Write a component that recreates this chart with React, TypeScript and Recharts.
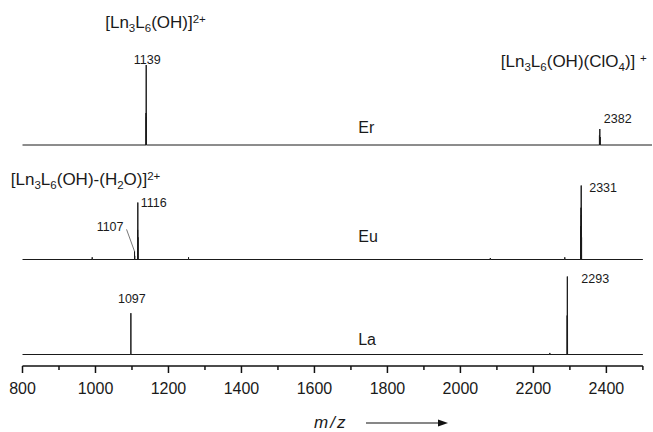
import React from "react";
import { ComposedChart, Line, XAxis, YAxis, ReferenceDot, ReferenceLine } from "recharts";

// peak sticks (m/z, relative intensity, 100 = tallest peak)
const erMz = [1138.5, 1139, 1139.5, 2381, 2382, 2383];
const erInt = [40, 100, 35, 12, 20, 10];

const euMz = [991, 1107, 1107.5, 1115.5, 1116, 1116.5, 1255, 2082, 2286, 2330, 2330.5, 2331, 2331.5, 2332];
const euInt = [3, 11, 5, 40, 77, 30, 3, 2, 3, 45, 70, 100, 60, 30];

const laMz = [1097, 2245, 2292.5, 2293, 2293.5];
const laInt = [53, 2, 50, 100, 45];

const xTicks = [800, 900, 1000, 1100, 1200, 1300, 1400, 1500, 1600, 1700, 1800, 1900, 2000, 2100, 2200, 2300, 2400, 2500];

const W = 653;
const H = 432;
const AXIS_H = 66;
const PLOT_H = H - AXIS_H;
const FONT = "'Liberation Sans', Arial, Helvetica, sans-serif";
const INK = "#1a1a1a";

// y domain so that 0 sits at basePx and 100 sits peakPx above it
const domainFor = (basePx: number, peakPx: number): [number, number] => {
  const s = peakPx / 100;
  return [-(PLOT_H - basePx) / s, basePx / s];
};
const erDomain = domainFor(145, 80);
const euDomain = domainFor(259.5, 74);
const laDomain = domainFor(354.5, 78);

const buildSpectrum = (mz: number[], ints: number[], start: number, end: number) => {
  const pts: { mz: number; v: number }[] = [{ mz: start, v: 0 }];
  mz.forEach((m, i) => {
    pts.push({ mz: m - 0.12, v: 0 }, { mz: m, v: ints[i] }, { mz: m + 0.12, v: 0 });
  });
  pts.push({ mz: end, v: 0 });
  return pts;
};

const erData = buildSpectrum(erMz, erInt, 800, 2525);
const euData = buildSpectrum(euMz, euInt, 800, 2500);
const laData = buildSpectrum(laMz, laInt, 800, 2500);

type Part = { t: string; s?: "sub" | "sup" };

const Formula = ({ x, y, parts }: { x: number; y: number; parts: Part[] }) => {
  let shift = 0;
  return (
    <text x={x} y={y} fontSize={17} fill={INK} fontFamily={FONT}>
      {parts.map((p, i) => {
        const target = p.s === "sub" ? 4 : p.s === "sup" ? -5 : 0;
        const dy = target - shift;
        shift = target;
        return (
          <tspan key={i} dy={dy} fontSize={p.s ? 11.5 : 17}>
            {p.t}
          </tspan>
        );
      })}
    </text>
  );
};

const formula1: Part[] = [{ t: "[Ln" }, { t: "3", s: "sub" }, { t: "L" }, { t: "6", s: "sub" }, { t: "(OH)]" }, { t: "2+", s: "sup" }];
const formula2: Part[] = [
  { t: "[Ln" }, { t: "3", s: "sub" }, { t: "L" }, { t: "6", s: "sub" }, { t: "(OH)(ClO" }, { t: "4", s: "sub" }, { t: ")] " }, { t: "+", s: "sup" },
];
const formula3: Part[] = [
  { t: "[Ln" }, { t: "3", s: "sub" }, { t: "L" }, { t: "6", s: "sub" }, { t: "(OH)-(H" }, { t: "2", s: "sub" }, { t: "O)]" }, { t: "2+", s: "sup" },
];

const num = (txt: string, dx: number, dy: number, anchor: "start" | "middle" | "end" = "start") => (props: any) => {
  const vb = props.viewBox || {};
  return (
    <text x={vb.x + dx} y={vb.y + dy} textAnchor={anchor} fontSize={12.5} fill={INK} fontFamily={FONT}>
      {txt}
    </text>
  );
};

const big = (txt: string, dx: number, dy: number) => (props: any) => {
  const vb = props.viewBox || {};
  return (
    <text x={vb.x + dx} y={vb.y + dy} fontSize={16} fill={INK} fontFamily={FONT}>
      {txt}
    </text>
  );
};

const formulaAt = (parts: Part[], dx: number, dy: number) => (props: any) => {
  const vb = props.viewBox || {};
  return <Formula x={vb.x + dx} y={vb.y + dy} parts={parts} />;
};

const label1107 = (props: any) => {
  const vb = props.viewBox || {};
  return (
    <g>
      <line x1={vb.x - 8} y1={vb.y - 22} x2={vb.x} y2={vb.y} stroke="#555" strokeWidth={0.8} />
      <text x={vb.x - 11} y={vb.y - 20} textAnchor="end" fontSize={12.5} fill={INK} fontFamily={FONT}>
        1107
      </text>
    </g>
  );
};

const AxisTick = (props: any) => {
  const { x, y, payload } = props;
  const major = payload.value % 200 === 0;
  return (
    <g>
      <line x1={x} x2={x} y1={y} y2={y + (major ? 7 : 4)} stroke="#111" strokeWidth={1.5} />
      {major && payload.value <= 2400 && (
        <text x={x} y={y + 28} textAnchor="middle" fontSize={16} fill={INK} fontFamily={FONT}>
          {payload.value}
        </text>
      )}
    </g>
  );
};

const AxisTitle = (props: any) => {
  const vb = props.viewBox || { x: 0, y: 0 };
  const y = vb.y + 62;
  return (
    <g>
      <text x={314} y={y} fontSize={17} fontStyle="italic" fill={INK} fontFamily={FONT} letterSpacing={2}>
        m/z
      </text>
      <line x1={366} x2={440} y1={y - 5} y2={y - 5} stroke="#111" strokeWidth={1.2} />
      <polygon points={`${448},${y - 5} ${438},${y - 8.5} ${438},${y - 1.5}`} fill="#111" />
    </g>
  );
};

export default function App() {
  return (
    <div style={{ position: "absolute", left: 0, top: 0, width: W, height: H, background: "#fff" }}>
      <ComposedChart width={W} height={H} margin={{ top: 0, right: 1, bottom: 0, left: 22.5 }}>
        <XAxis
          dataKey="mz"
          type="number"
          domain={[800, 2525]}
          ticks={xTicks}
          interval={0}
          height={AXIS_H}
          axisLine={false}
          tickLine={false}
          tickSize={0}
          tickMargin={0}
          tick={<AxisTick />}
          label={<AxisTitle />}
        />
        <YAxis yAxisId="er" type="number" hide domain={erDomain} allowDataOverflow />
        <YAxis yAxisId="eu" type="number" hide domain={euDomain} allowDataOverflow />
        <YAxis yAxisId="la" type="number" hide domain={laDomain} allowDataOverflow />

        <Line yAxisId="er" data={erData} dataKey="v" type="linear" stroke={INK} strokeWidth={1} dot={false} activeDot={false} isAnimationActive={false} />
        <Line yAxisId="eu" data={euData} dataKey="v" type="linear" stroke={INK} strokeWidth={1} dot={false} activeDot={false} isAnimationActive={false} />
        <Line yAxisId="la" data={laData} dataKey="v" type="linear" stroke={INK} strokeWidth={1} dot={false} activeDot={false} isAnimationActive={false} />

        <ReferenceLine
          yAxisId="la"
          segment={[{ x: 800, y: laDomain[0] }, { x: 2500, y: laDomain[0] }]}
          stroke="#111"
          strokeWidth={1.6}
          ifOverflow="visible"
        />

        {/* Er */}
        <ReferenceDot yAxisId="er" x={1139} y={100} r={0} ifOverflow="visible" label={num("1139", 1, -1, "middle")} />
        <ReferenceDot yAxisId="er" x={1139} y={100} r={0} ifOverflow="visible" label={formulaAt(formula1, -41, -37)} />
        <ReferenceDot yAxisId="er" x={2382} y={20} r={0} ifOverflow="visible" label={num("2382", 4, -6)} />
        <ReferenceDot yAxisId="er" x={2382} y={20} r={0} ifOverflow="visible" label={formulaAt(formula2, -99, -62)} />
        <ReferenceDot yAxisId="er" x={1720} y={0} r={0} ifOverflow="visible" label={big("Er", 0, -12)} />

        {/* Eu */}
        <ReferenceDot yAxisId="eu" x={2331} y={100} r={0} ifOverflow="visible" label={num("2331", 8, 6)} />
        <ReferenceDot yAxisId="eu" x={1116} y={77} r={0} ifOverflow="visible" label={num("1116", 3, 4)} />
        <ReferenceDot yAxisId="eu" x={1116} y={77} r={0} ifOverflow="visible" label={formulaAt(formula3, -127, -18)} />
        <ReferenceDot yAxisId="eu" x={1107} y={11} r={0} ifOverflow="visible" label={label1107} />
        <ReferenceDot yAxisId="eu" x={1720} y={0} r={0} ifOverflow="visible" label={big("Eu", 0, -18)} />

        {/* La */}
        <ReferenceDot yAxisId="la" x={1097} y={53} r={0} ifOverflow="visible" label={num("1097", 1, -10, "middle")} />
        <ReferenceDot yAxisId="la" x={2293} y={100} r={0} ifOverflow="visible" label={num("2293", 14, 6)} />
        <ReferenceDot yAxisId="la" x={1720} y={0} r={0} ifOverflow="visible" label={big("La", 0, -10)} />
      </ComposedChart>
    </div>
  );
}
